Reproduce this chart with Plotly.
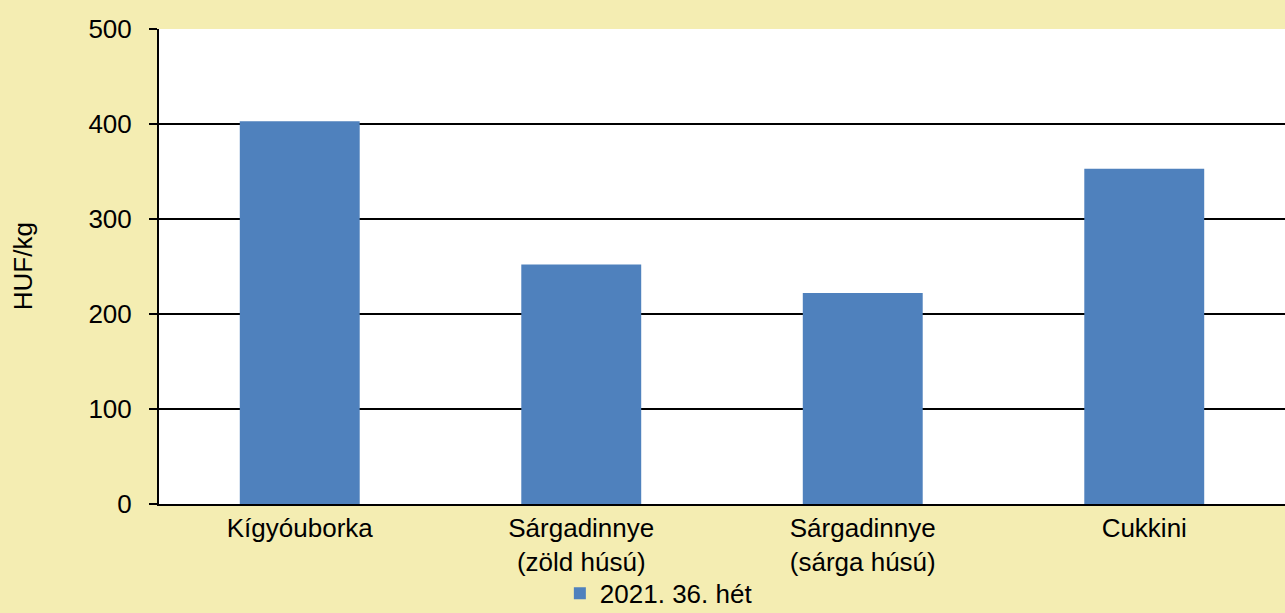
import plotly.graph_objects as go

categories = ["Kígyóuborka", "Sárgadinnye<br>(zöld húsú)", "Sárgadinnye<br>(sárga húsú)", "Cukkini"]
values = [403, 252, 222, 353]
series_name = "2021. 36. hét"
y_ticks = [0, 100, 200, 300, 400, 500]
y_title = "HUF/kg"

fig = go.Figure()
fig.add_trace(go.Bar(
    x=categories, y=values, name=series_name,
    marker=dict(color="#4F81BD", line=dict(width=0)),
    showlegend=True,
))

font = dict(family="Liberation Sans, Arial, sans-serif", size=26, color="black")
fig.update_layout(
    width=1285, height=613,
    paper_bgcolor="#F4EDB2",
    plot_bgcolor="white",
    margin=dict(l=159, r=0, t=29, b=109, autoexpand=False),
    font=font,
    bargap=0.574,
    showlegend=True,
    legend=dict(orientation="h", x=0.356, xanchor="left", yref="container", y=0.032,
                yanchor="middle", bgcolor="rgba(0,0,0,0)", font=font, itemwidth=30),
    xaxis=dict(showline=True, linecolor="black", linewidth=2, ticks="", showgrid=False,
               tickfont=font, automargin=False),
    yaxis=dict(range=[0, 500], tickvals=y_ticks, showgrid=True, gridcolor="black", gridwidth=2,
               showline=True, linecolor="black", linewidth=2, ticks="outside", ticklen=8,
               tickwidth=2, tickcolor="black", zeroline=False, ticklabelstandoff=12,
               tickfont=font, automargin=False),
    annotations=[dict(text=y_title, xref="paper", yref="paper", x=-0.121, y=0.5,
                      xanchor="center", yanchor="middle", textangle=-90, showarrow=False,
                      font=font)],
)

fig.write_html("out.html", config={"displayModeBar": False},
               post_script="document.body.style.margin='0';document.body.style.padding='0';")
